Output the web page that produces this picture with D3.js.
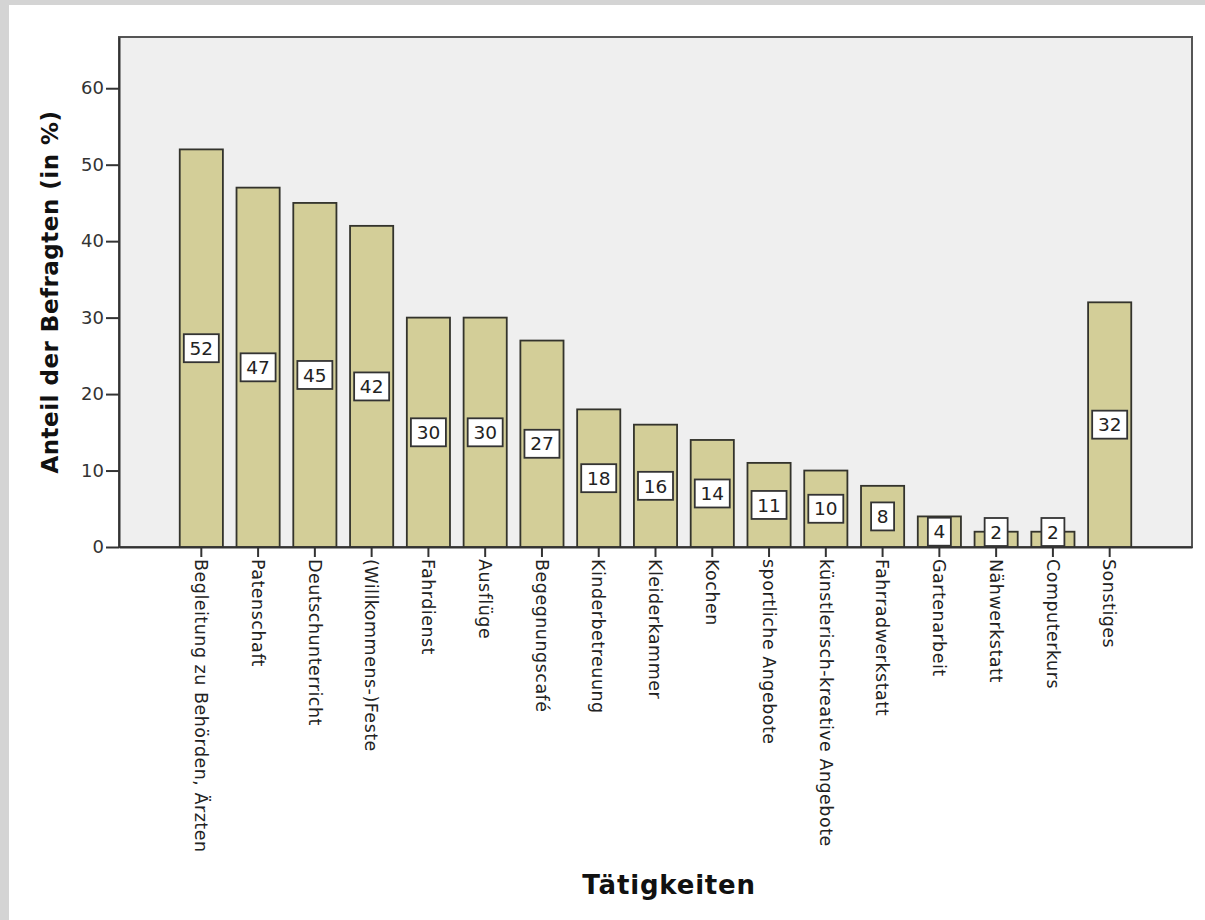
<!DOCTYPE html>
<html>
<head>
<meta charset="utf-8">
<script src="https://cdn.jsdelivr.net/npm/d3@7"></script>
<style>
  html, body { margin: 0; padding: 0; background: #d4d4d4; }
  svg { display: block; }
</style>
</head>
<body>
<svg id="chart" width="1205" height="920"></svg>
<script>
// Activities (Tätigkeiten) and share of respondents in percent
const categories = [
  "Begleitung zu Behörden, Ärzten",
  "Patenschaft",
  "Deutschunterricht",
  "(Willkommens-)Feste",
  "Fahrdienst",
  "Ausflüge",
  "Begegnungscafé",
  "Kinderbetreuung",
  "Kleiderkammer",
  "Kochen",
  "sportliche Angebote",
  "künstlerisch-kreative Angebote",
  "Fahrradwerkstatt",
  "Gartenarbeit",
  "Nähwerkstatt",
  "Computerkurs",
  "Sonstiges"
];
const values = [52, 47, 45, 42, 30, 30, 27, 18, 16, 14, 11, 10, 8, 4, 2, 2, 32];
const yTicks = [0, 10, 20, 30, 40, 50, 60];
const yTitle = "Anteil der Befragten (in %)";
const xTitle = "Tätigkeiten";

const data = categories.map((c, i) => ({ cat: c, val: values[i] }));

const svg = d3.select("#chart");
const W = 1205, H = 920;
const plot = { left: 119, top: 37, right: 1192, bottom: 547 };
const FONT = "DejaVu Sans, sans-serif";

// page background panel
svg.append("rect").attr("x", 9).attr("y", 5).attr("width", W - 9).attr("height", H - 5)
  .attr("fill", "#ffffff");

const x = d3.scaleBand()
  .domain(categories)
  .range([plot.left, plot.right])
  .paddingInner(0.24)
  .paddingOuter(1.07);

const y = d3.scaleLinear()
  .domain([0, 66.7])
  .range([plot.bottom, plot.top]);

// plot area
svg.append("rect")
  .attr("x", plot.left).attr("y", plot.top)
  .attr("width", plot.right - plot.left).attr("height", plot.bottom - plot.top)
  .attr("fill", "#efefef")
  .attr("stroke", "#555")
  .attr("stroke-width", 2);

// bars
svg.append("g").selectAll("rect")
  .data(data)
  .join("rect")
  .attr("x", d => x(d.cat))
  .attr("y", d => y(d.val))
  .attr("width", x.bandwidth())
  .attr("height", d => y(0) - y(d.val))
  .attr("fill", "#d3ce98")
  .attr("stroke", "#33332c")
  .attr("stroke-width", 1.8);

// y axis
const yAxis = svg.append("g")
  .attr("transform", `translate(${plot.left},0)`)
  .call(d3.axisLeft(y).tickValues(yTicks).tickSize(13).tickPadding(2).tickSizeOuter(0));
yAxis.select(".domain").attr("stroke", "#333").attr("stroke-width", 2);
yAxis.selectAll(".tick line").attr("stroke", "#333").attr("stroke-width", 2);
yAxis.selectAll(".tick text")
  .attr("font-family", FONT)
  .attr("font-size", 18)
  .attr("fill", "#333");

// x axis
const xAxis = svg.append("g")
  .attr("transform", `translate(0,${plot.bottom})`)
  .call(d3.axisBottom(x).tickSize(10).tickSizeOuter(0));
xAxis.select(".domain").attr("stroke", "#333").attr("stroke-width", 2);
xAxis.selectAll(".tick line").attr("stroke", "#333").attr("stroke-width", 2);
xAxis.selectAll(".tick text")
  .attr("font-family", FONT)
  .attr("font-size", 17.5)
  .attr("letter-spacing", "0.5px")
  .attr("fill", "#222")
  .attr("text-anchor", "start")
  .attr("transform", "rotate(90)")
  .attr("x", 12)
  .attr("y", 0)
  .attr("dy", "0.36em");

// value labels inside bars
const lbl = svg.append("g").selectAll("g")
  .data(data)
  .join("g")
  .attr("transform", d => {
    const cx = x(d.cat) + x.bandwidth() / 2;
    const boxH = 28;
    let cy = y(d.val / 2);
    if (cy + boxH / 2 > plot.bottom - 1) cy = plot.bottom - 1 - boxH / 2;
    return `translate(${cx},${cy})`;
  });
lbl.append("rect")
  .attr("x", d => -(String(d.val).length === 1 ? 11.5 : 17.5))
  .attr("y", -14)
  .attr("width", d => (String(d.val).length === 1 ? 23 : 35))
  .attr("height", 28)
  .attr("fill", "#ffffff")
  .attr("stroke", "#333")
  .attr("stroke-width", 1.8);
lbl.append("text")
  .attr("text-anchor", "middle")
  .attr("dy", "0.36em")
  .attr("font-family", FONT)
  .attr("font-size", 18.5)
  .attr("fill", "#222")
  .text(d => d.val);

// axis titles
svg.append("text")
  .attr("transform", `translate(58,${(plot.top + plot.bottom) / 2}) rotate(-90)`)
  .attr("text-anchor", "middle")
  .attr("font-family", FONT)
  .attr("font-weight", "bold")
  .attr("font-size", 23)
  .attr("letter-spacing", "0.5px")
  .attr("fill", "#111")
  .text(yTitle);

svg.append("text")
  .attr("x", 669)
  .attr("y", 894)
  .attr("text-anchor", "middle")
  .attr("font-family", FONT)
  .attr("font-weight", "bold")
  .attr("font-size", 26)
  .attr("letter-spacing", "0.8px")
  .attr("fill", "#111")
  .text(xTitle);
</script>
</body>
</html>
